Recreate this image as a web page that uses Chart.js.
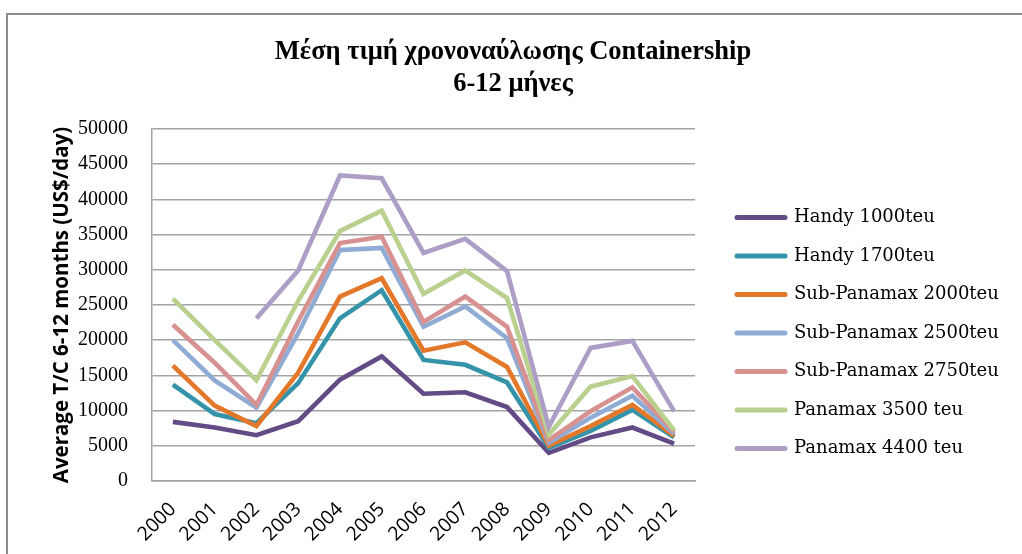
<!DOCTYPE html>
<html>
<head>
<meta charset="utf-8">
<script src="https://cdn.jsdelivr.net/npm/chart.js@4.4.1/dist/chart.umd.min.js"></script>
<style>
  html, body { margin: 0; padding: 0; background: #ffffff; overflow: hidden; }
  #wrap { position: relative; width: 1022px; height: 554px; }
  #frame { position: absolute; left: 6px; top: 13px; width: 1100px; height: 600px;
           border-left: 2px solid #8c8c8c; border-top: 2px solid #8c8c8c; }
  #c { position: absolute; left: 0; top: 0; }
</style>
</head>
<body>
<div id="wrap">
  <div id="frame"></div>
  <canvas id="c" width="1022" height="554"></canvas>
</div>
<script>
// Average 6-12 month time-charter rates, US$/day
const years = ['2000','2001','2002','2003','2004','2005','2006','2007','2008','2009','2010','2011','2012'];

const handy1000   = [8400, 7600, 6500, 8500, 14400, 17700, 12400, 12600, 10500, 4000, 6200, 7600, 5300];
const handy1700   = [13700, 9500, 8200, 13900, 23100, 27100, 17200, 16500, 14000, 4700, 7100, 10100, 6200];
const subPmx2000  = [16400, 10700, 7800, 15400, 26200, 28800, 18500, 19700, 16200, 5000, 7800, 10800, 6400];
const subPmx2500  = [20000, 14300, 10400, 21000, 32800, 33100, 21900, 24800, 20300, 5400, 9000, 12100, 6700];
const subPmx2750  = [22200, 16800, 10800, 22700, 33800, 34700, 22600, 26200, 21900, 5800, 9900, 13300, 7000];
const panamax3500 = [25900, 20000, 14300, 25600, 35500, 38400, 26600, 29900, 26000, 6600, 13400, 14900, 7200];
const panamax4400 = [null, null, 23100, 29900, 43400, 43000, 32400, 34400, 29800, 7700, 18900, 19900, 9900];

const seriesNames  = ['Handy 1000teu', 'Handy 1700teu', 'Sub-Panamax 2000teu', 'Sub-Panamax 2500teu',
                      'Sub-Panamax 2750teu', 'Panamax 3500 teu', 'Panamax 4400 teu'];
const seriesValues = [handy1000, handy1700, subPmx2000, subPmx2500, subPmx2750, panamax3500, panamax4400];
const seriesColors = ['#634b86', '#3493a8', '#e4782a', '#90acd5', '#d79190', '#b9d08f', '#ad9ec6'];

const yTicks = [0, 5000, 10000, 15000, 20000, 25000, 30000, 35000, 40000, 45000, 50000];

const datasets = seriesValues.map((vals, i) => ({
  label: seriesNames[i],
  data: vals,
  borderColor: seriesColors[i],
  backgroundColor: seriesColors[i],
  borderWidth: 4.6,
  pointRadius: 0,
  pointHoverRadius: 0,
  tension: 0,
  fill: false,
  spanGaps: false,
  borderJoinStyle: 'miter',
  borderCapStyle: 'butt',
  // later series are painted over earlier ones
  order: seriesValues.length - i
}));

const gridColor = '#a3a3a3';

// Legend sits in a fixed-width column to the right of the plot
const LEGEND_WIDTH = 317;
const LEGEND_SHIFT_X = 21.5;
const LEGEND_SHIFT_Y = 60;
const legendPlacement = {
  id: 'legendPlacement',
  beforeLayout(chart) {
    const lg = chart.legend;
    if (lg && !lg._fixedWidth) {
      const baseFit = lg.fit;
      lg.fit = function () { baseFit.call(this); this.width = LEGEND_WIDTH; };
      lg._fixedWidth = true;
    }
  },
  afterLayout(chart) {
    const lg = chart.legend;
    if (!lg) return;
    lg.left += LEGEND_SHIFT_X; lg.right += LEGEND_SHIFT_X;
    lg.top += LEGEND_SHIFT_Y; lg.bottom += LEGEND_SHIFT_Y;
  }
};

new Chart(document.getElementById('c'), {
  type: 'line',
  data: { labels: years, datasets },
  plugins: [legendPlacement],
  options: {
    responsive: false,
    animation: false,
    devicePixelRatio: 1,
    layout: { padding: { left: 14, right: 10, top: 0, bottom: 8 } },
    plugins: {
      title: {
        display: true,
        text: ['Μέση τιμή χρονοναύλωσης Containership', '6-12 μήνες'],
        color: '#000',
        font: { family: 'Liberation Serif', size: 26.5, weight: 'bold', lineHeight: 32 / 26.5 },
        padding: { top: 36, bottom: 29 }
      },
      legend: {
        position: 'right',
        align: 'center',
        labels: {
          color: '#000',
          font: { family: 'DejaVu Serif', size: 18 },
          usePointStyle: true,
          pointStyle: 'line',
          pointStyleWidth: 48,
          boxHeight: 19,
          padding: 20.5,
          sort: (a, b) => a.datasetIndex - b.datasetIndex,
          generateLabels(chart) {
            const items = Chart.defaults.plugins.legend.labels.generateLabels(chart);
            items.forEach(it => { it.lineCap = 'round'; it.lineWidth = 5; it.pointStyle = 'line'; });
            return items;
          }
        }
      },
      tooltip: { enabled: false }
    },
    scales: {
      x: {
        offset: true,
        grid: { display: false, drawTicks: false },
        border: { color: gridColor, width: 1.5 },
        ticks: {
          color: '#000',
          font: { family: 'Open Sans', size: 19.5 },
          maxRotation: 45, minRotation: 45,
          padding: 17,
          autoSkip: false
        },
        afterFit(s) { s.height = 65; }
      },
      y: {
        min: 0, max: 50000,
        afterBuildTicks(s) { s.ticks = yTicks.map(v => ({ value: v })); },
        grid: { color: gridColor, lineWidth: 1.5, drawTicks: false },
        border: { color: gridColor, width: 1.5 },
        ticks: {
          color: '#000',
          font: { family: 'Liberation Serif', size: 20 },
          padding: 24,
          callback: v => String(v)
        },
        title: {
          display: true,
          text: 'Average T/C 6-12 months (US$/day)',
          color: '#000',
          font: { family: 'Open Sans', size: 20.5, weight: 'bold' },
          padding: { top: 36, bottom: 0 }
        },
        afterFit(s) { s.width = 138; }
      }
    }
  }
});
</script>
</body>
</html>
